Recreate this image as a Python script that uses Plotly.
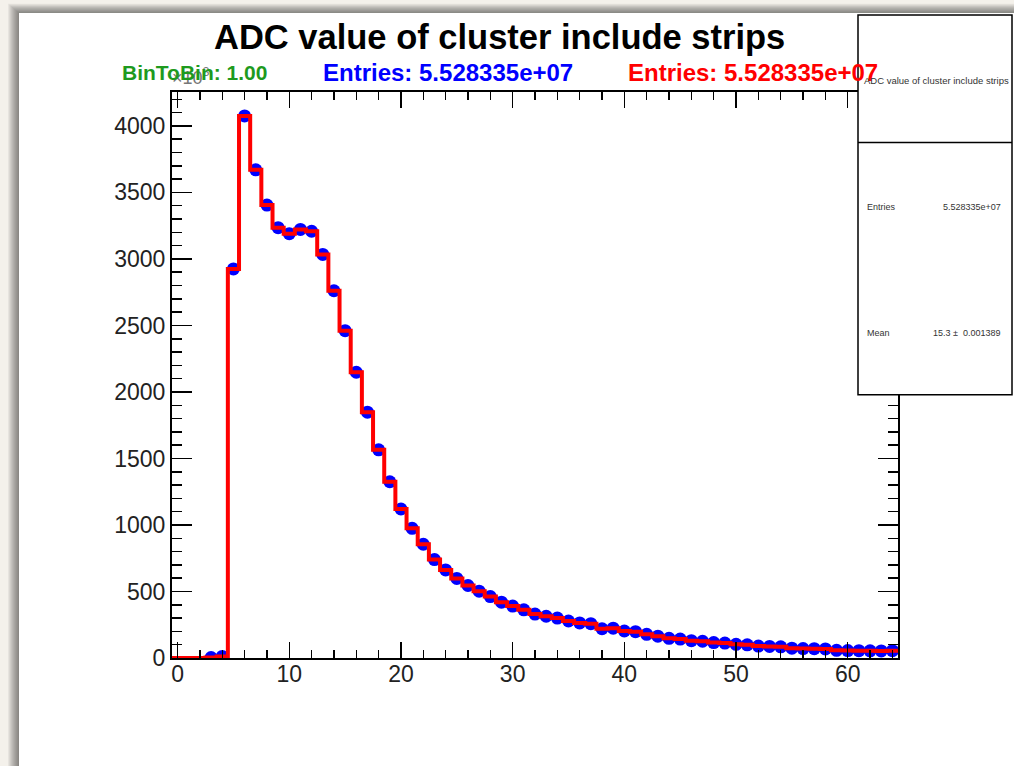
import plotly.graph_objects as go
import numpy as np

# ---------------- data ----------------
bin_centers = list(range(0, 65))
bin_values = [0, 0, 0, 3, 12, 2925, 4075, 3670, 3405, 3235,
              3190, 3222, 3208, 3034, 2761, 2461, 2148, 1848, 1565, 1325,
              1120, 975, 855, 740, 662, 598, 545, 502, 462, 420,
              390, 362, 330, 314, 300, 278, 264, 258, 220, 224,
              203, 198, 178, 164, 148, 142, 130, 126, 116, 112,
              103, 99, 90, 87, 84, 74, 71, 70, 68, 58,
              56, 55, 54, 53, 55]
x_ticks = [0, 10, 20, 30, 40, 50, 60]
y_ticks = [0, 500, 1000, 1500, 2000, 2500, 3000, 3500, 4000]

title_text = "ADC value of cluster include strips"
bintobin_text = "BinToBin: 1.00"
entries_text = "Entries: 5.528335e+07"
stat_entries = "5.528335e+07"
stat_mean = "15.3 \u00b1  0.001389"

# ---------------- derived marks ----------------
centers = np.array(bin_centers, dtype=float)
vals = np.array(bin_values, dtype=float)
edges = np.append(centers - 0.5, centers[-1] + 0.5)
step_y = np.append(vals, vals[-1])
blue_y = np.where(vals > 0, vals, np.nan)

# ---------------- layout geometry (pixels) ----------------
W_FIG, H_FIG = 1014, 766
L, R, T, B = 172, 898, 92, 658.5
PW, PH = R - L, B - T


def px(x):
    return (x - L) / PW


def py(y):
    return (B - y) / PH


FONT = "Liberation Sans, Arial, Helvetica, sans-serif"
BEIGE = "#f4f1eb"

fig = go.Figure()
fig.add_trace(go.Scatter(
    x=centers, y=blue_y, mode="markers",
    marker=dict(color="#0000ff", size=13, line=dict(width=0)),
    hoverinfo="skip", showlegend=False))
fig.add_trace(go.Scatter(
    x=edges, y=step_y, mode="lines", line_shape="hv",
    line=dict(color="#ff0000", width=4),
    hoverinfo="skip", showlegend=False))

shapes = []
# window shadow
for k in range(1, 12):
    shapes.append(dict(type="rect", xref="paper", yref="paper", layer="below",
                       x0=px(19 - k), x1=px(1030), y0=py(13 - k * 0.85), y1=py(780),
                       fillcolor="rgba(40,35,30,0.06)", line=dict(width=0)))
# white canvas
shapes.append(dict(type="rect", xref="paper", yref="paper", layer="below",
                   x0=px(19), x1=px(1030), y0=py(13), y1=py(780),
                   fillcolor="white", line=dict(width=0)))
# stats box
shapes.append(dict(type="rect", xref="paper", yref="paper", layer="above",
                   x0=px(858), x1=px(1012), y0=py(395), y1=py(15),
                   fillcolor="white", line=dict(color="black", width=1.5)))
shapes.append(dict(type="line", xref="paper", yref="paper", layer="above",
                   x0=px(858), x1=px(1012), y0=py(142.5), y1=py(142.5),
                   line=dict(color="black", width=1.5)))

ann = []
ann.append(dict(text="\u00d710<sup>3</sup>", x=px(170), y=py(76), xref="paper", yref="paper",
                xanchor="left", yanchor="middle", showarrow=False,
                font=dict(family=FONT, size=18, color="#777777")))
ann.append(dict(text="<b>" + title_text + "</b>", x=px(499.5), y=py(37), xref="paper", yref="paper",
                xanchor="center", yanchor="middle", showarrow=False,
                font=dict(family=FONT, size=34.5, color="black")))
ann.append(dict(text="<b>" + bintobin_text + "</b>", x=px(120), y=py(72), xref="paper", yref="paper",
                xanchor="left", yanchor="middle", showarrow=False,
                font=dict(family=FONT, size=21, color="#1e9a1e")))
ann.append(dict(text="<b>" + entries_text + "</b>", x=px(321), y=py(72), xref="paper", yref="paper",
                xanchor="left", yanchor="middle", showarrow=False,
                font=dict(family=FONT, size=24, color="#0000ff")))
ann.append(dict(text="<b>" + entries_text + "</b>", x=px(626), y=py(72), xref="paper", yref="paper",
                xanchor="left", yanchor="middle", showarrow=False,
                font=dict(family=FONT, size=24, color="#ff0000")))
# stats box texts
ann.append(dict(text=title_text, x=px(862), y=py(80), xref="paper", yref="paper",
                xanchor="left", yanchor="middle", showarrow=False,
                font=dict(family=FONT, size=9.5, color="#333333")))
ann.append(dict(text="Entries", x=px(865), y=py(207), xref="paper", yref="paper",
                xanchor="left", yanchor="middle", showarrow=False,
                font=dict(family=FONT, size=9, color="#333333")))
ann.append(dict(text=stat_entries, x=px(1003), y=py(207), xref="paper", yref="paper",
                xanchor="right", yanchor="middle", showarrow=False,
                font=dict(family=FONT, size=9, color="#333333")))
ann.append(dict(text="Mean", x=px(865), y=py(333), xref="paper", yref="paper",
                xanchor="left", yanchor="middle", showarrow=False,
                font=dict(family=FONT, size=9, color="#333333")))
ann.append(dict(text=stat_mean, x=px(1003), y=py(333), xref="paper", yref="paper",
                xanchor="right", yanchor="middle", showarrow=False,
                font=dict(family=FONT, size=9, color="#333333")))

fig.update_layout(
    width=W_FIG, height=H_FIG,
    margin=dict(l=L, r=W_FIG - R, t=T, b=H_FIG - B, pad=0),
    paper_bgcolor=BEIGE, plot_bgcolor="white",
    showlegend=False,
    shapes=shapes, annotations=ann,
    xaxis=dict(range=[-0.5, 64.5], tickmode="array", tickvals=x_ticks,
               ticktext=[str(v) for v in x_ticks],
               ticks="inside", ticklen=16, tickwidth=1.5, tickcolor="black",
               minor=dict(dtick=2, tick0=0, ticks="inside", ticklen=8,
                          tickwidth=1.5, tickcolor="black", showgrid=False),
               showline=True, linecolor="black", linewidth=2, mirror="ticks",
               showgrid=False, zeroline=False, ticklabelstandoff=-6,
               tickfont=dict(family=FONT, size=23, color="#222222")),
    yaxis=dict(range=[0, 4255], tickmode="array", tickvals=y_ticks,
               ticktext=[str(v) for v in y_ticks],
               ticks="inside", ticklen=20, tickwidth=1.5, tickcolor="black",
               minor=dict(dtick=100, tick0=0, ticks="inside", ticklen=10,
                          tickwidth=1.5, tickcolor="black", showgrid=False),
               showline=True, linecolor="black", linewidth=2, mirror="ticks",
               showgrid=False, zeroline=False,
               tickfont=dict(family=FONT, size=23, color="#222222")),
)

fig.write_html(
    "out.html",
    config={"displayModeBar": False, "staticPlot": True},
    post_script="document.body.style.margin='0';document.body.style.overflow='hidden';"
                "document.body.style.background='" + BEIGE + "';",
)
